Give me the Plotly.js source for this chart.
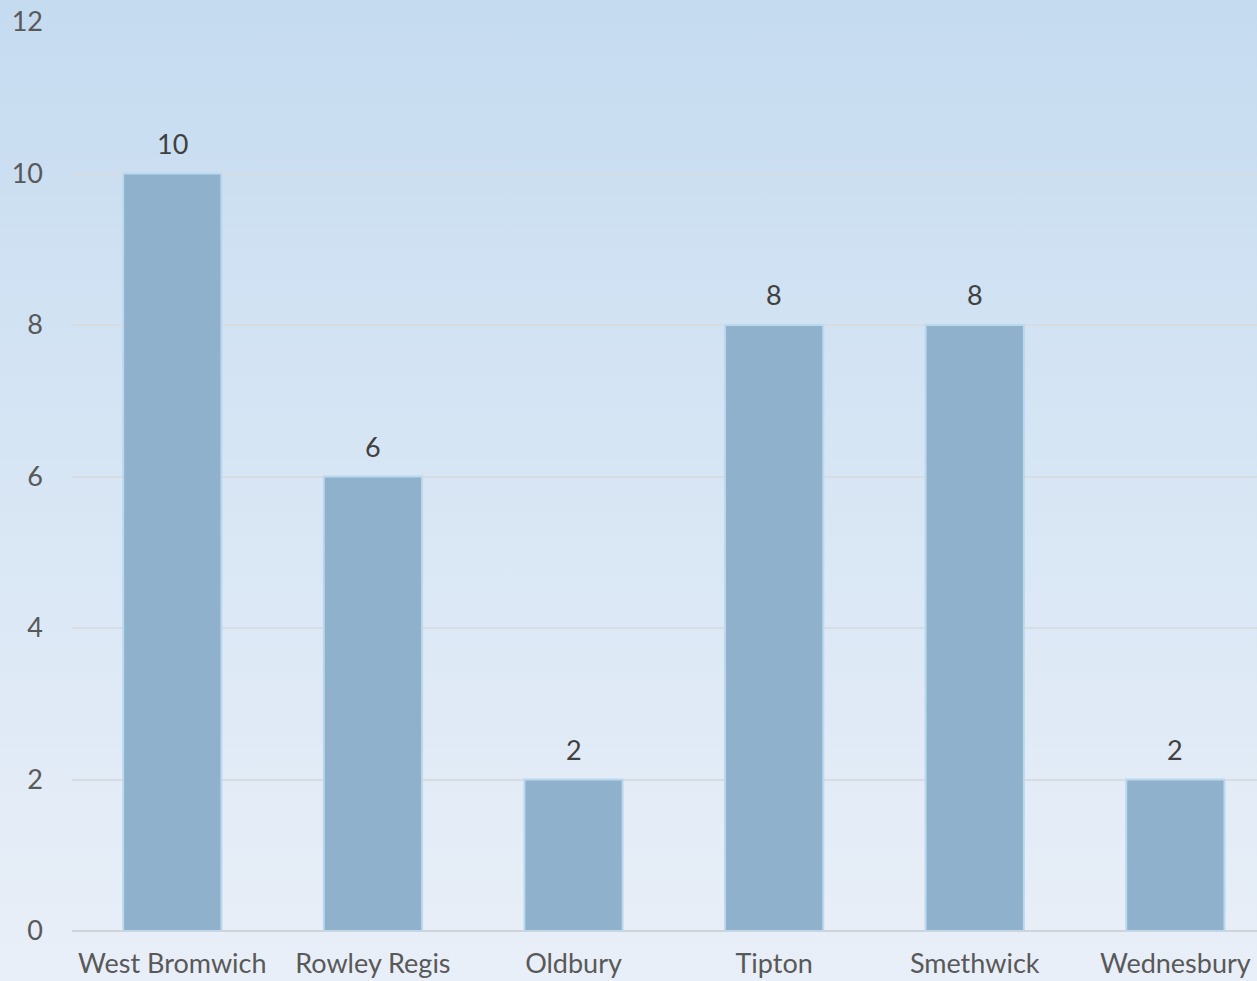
<!DOCTYPE html>
<html>
<head>
<meta charset="utf-8">
<script src="https://cdn.plot.ly/plotly-3.0.1.min.js"></script>
<style>
html,body{margin:0;padding:0;}
body{width:1257px;height:981px;overflow:hidden;background:linear-gradient(to bottom,#c5dbf0 0%,#d6e5f4 45%,#e9eff8 100%);}
#chart{width:1257px;height:981px;}
</style>
</head>
<body>
<div id="chart"></div>
<script>
const categories = ["West Bromwich","Rowley Regis","Oldbury","Tipton","Smethwick","Wednesbury"];
const values = [10, 6, 2, 8, 8, 2];
const yTicks = [0, 2, 4, 6, 8, 10, 12];

const FONT = "Lato, 'Open Sans', sans-serif";

const labels = categories.map((c, i) => ({
  x: c, y: values[i], xref: "x", yref: "y",
  text: String(values[i]), showarrow: false,
  yanchor: "bottom", yshift: 12,
  font: {family: FONT, size: 27, color: "#404040"}
}));

Plotly.newPlot("chart", [{
  type: "bar",
  x: categories,
  y: values,
  width: 0.49,
  marker: {color: "#8fb1cc", line: {color: "#bcd8ee", width: 2}},
  hoverinfo: "none"
}], {
  width: 1257, height: 981,
  margin: {l: 72, r: 0, t: 22, b: 50},
  paper_bgcolor: "rgba(0,0,0,0)",
  plot_bgcolor: "rgba(0,0,0,0)",
  showlegend: false,
  annotations: labels,
  xaxis: {
    range: [-0.5, 5.407],
    tickfont: {family: FONT, size: 27, color: "#595959"},
    showgrid: false, zeroline: false, showline: false,
    ticks: "", ticklabelstandoff: 14, fixedrange: true
  },
  yaxis: {
    range: [0, 12],
    tickvals: yTicks,
    ticktext: yTicks.map(String),
    tickfont: {family: FONT, size: 27, color: "#595959"},
    showgrid: true, gridcolor: "#d7dce2", gridwidth: 2,
    zeroline: true, zerolinecolor: "#cfd4da", zerolinewidth: 2,
    showline: false, ticks: "", ticklabelstandoff: 28, fixedrange: true
  }
}, {displayModeBar: false, staticPlot: true});
</script>
</body>
</html>
